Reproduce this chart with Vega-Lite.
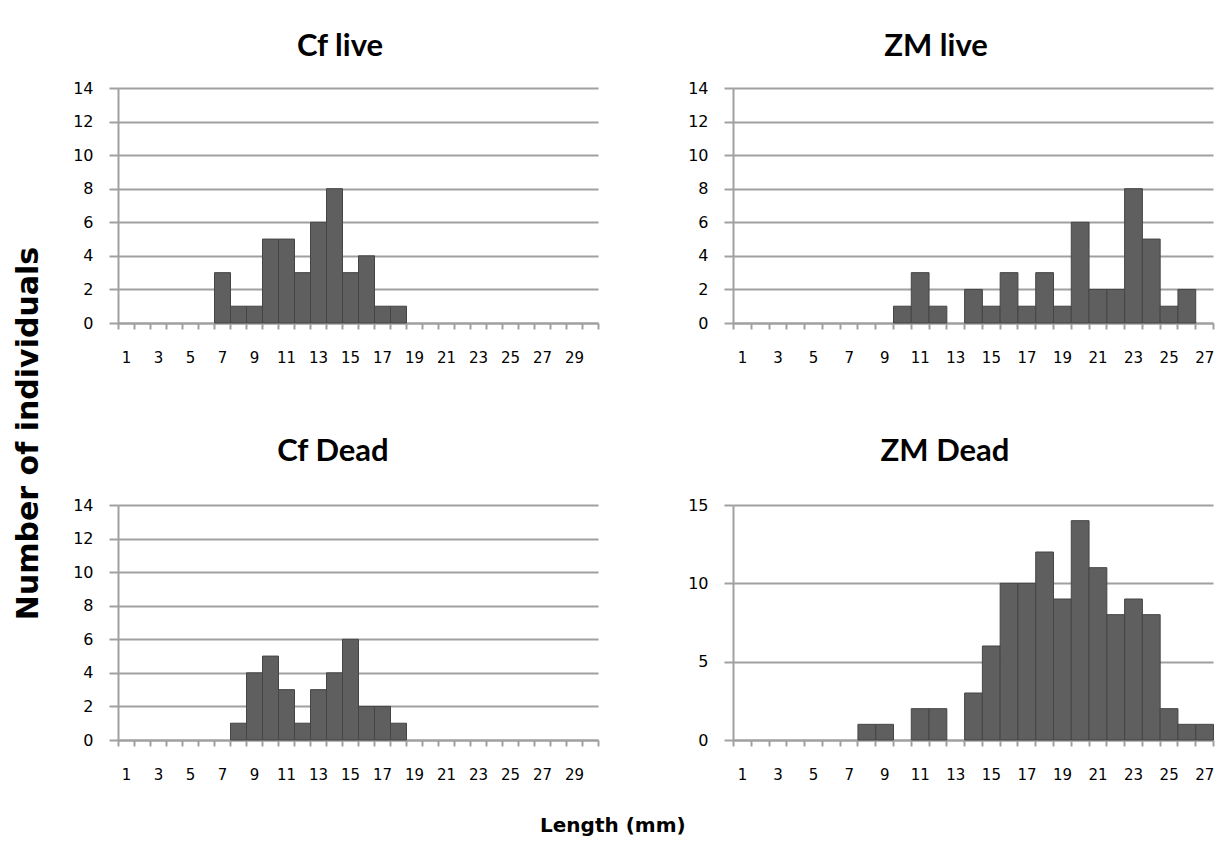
{
  "$schema": "https://vega.github.io/schema/vega-lite/v6.json",
  "background": "white",
  "padding": {"left": 13, "top": 31, "right": 5, "bottom": 5},
  "config": {
    "view": {"stroke": null},
    "font": "DejaVu Sans",
    "axis": {
      "domainColor": "#a0a0a0",
      "domainWidth": 2,
      "tickColor": "#a0a0a0",
      "tickWidth": 2,
      "gridColor": "#a0a0a0",
      "gridWidth": 2,
      "labelColor": "#000000",
      "labelFont": "DejaVu Sans",
      "title": null
    },
    "axisX": {"grid": false, "tickSize": 6, "labelPadding": 21, "labelFontSize": 15, "labelOverlap": false, "labelFlush": false, "labelAngle": 0},
    "axisY": {"grid": true, "tickSize": 9, "labelPadding": 16, "labelFontSize": 16},
    "title": {"font": "Lato", "fontSize": 31, "fontWeight": "bold", "color": "#000000", "offset": 22, "anchor": "middle"}
  },
  "title": {"text": "Length (mm)", "orient": "bottom", "anchor": "middle", "font": "DejaVu Sans", "fontSize": 20, "fontWeight": "bold", "offset": 34, "dx": -5},
  "data": {"values": [
    {"panel": "Cf live", "length": 7, "count": 3},
    {"panel": "Cf live", "length": 8, "count": 1},
    {"panel": "Cf live", "length": 9, "count": 1},
    {"panel": "Cf live", "length": 10, "count": 5},
    {"panel": "Cf live", "length": 11, "count": 5},
    {"panel": "Cf live", "length": 12, "count": 3},
    {"panel": "Cf live", "length": 13, "count": 6},
    {"panel": "Cf live", "length": 14, "count": 8},
    {"panel": "Cf live", "length": 15, "count": 3},
    {"panel": "Cf live", "length": 16, "count": 4},
    {"panel": "Cf live", "length": 17, "count": 1},
    {"panel": "Cf live", "length": 18, "count": 1},
    {"panel": "ZM live", "length": 10, "count": 1},
    {"panel": "ZM live", "length": 11, "count": 3},
    {"panel": "ZM live", "length": 12, "count": 1},
    {"panel": "ZM live", "length": 14, "count": 2},
    {"panel": "ZM live", "length": 15, "count": 1},
    {"panel": "ZM live", "length": 16, "count": 3},
    {"panel": "ZM live", "length": 17, "count": 1},
    {"panel": "ZM live", "length": 18, "count": 3},
    {"panel": "ZM live", "length": 19, "count": 1},
    {"panel": "ZM live", "length": 20, "count": 6},
    {"panel": "ZM live", "length": 21, "count": 2},
    {"panel": "ZM live", "length": 22, "count": 2},
    {"panel": "ZM live", "length": 23, "count": 8},
    {"panel": "ZM live", "length": 24, "count": 5},
    {"panel": "ZM live", "length": 25, "count": 1},
    {"panel": "ZM live", "length": 26, "count": 2},
    {"panel": "Cf Dead", "length": 8, "count": 1},
    {"panel": "Cf Dead", "length": 9, "count": 4},
    {"panel": "Cf Dead", "length": 10, "count": 5},
    {"panel": "Cf Dead", "length": 11, "count": 3},
    {"panel": "Cf Dead", "length": 12, "count": 1},
    {"panel": "Cf Dead", "length": 13, "count": 3},
    {"panel": "Cf Dead", "length": 14, "count": 4},
    {"panel": "Cf Dead", "length": 15, "count": 6},
    {"panel": "Cf Dead", "length": 16, "count": 2},
    {"panel": "Cf Dead", "length": 17, "count": 2},
    {"panel": "Cf Dead", "length": 18, "count": 1},
    {"panel": "ZM Dead", "length": 8, "count": 1},
    {"panel": "ZM Dead", "length": 9, "count": 1},
    {"panel": "ZM Dead", "length": 11, "count": 2},
    {"panel": "ZM Dead", "length": 12, "count": 2},
    {"panel": "ZM Dead", "length": 14, "count": 3},
    {"panel": "ZM Dead", "length": 15, "count": 6},
    {"panel": "ZM Dead", "length": 16, "count": 10},
    {"panel": "ZM Dead", "length": 17, "count": 10},
    {"panel": "ZM Dead", "length": 18, "count": 12},
    {"panel": "ZM Dead", "length": 19, "count": 9},
    {"panel": "ZM Dead", "length": 20, "count": 14},
    {"panel": "ZM Dead", "length": 21, "count": 11},
    {"panel": "ZM Dead", "length": 22, "count": 8},
    {"panel": "ZM Dead", "length": 23, "count": 9},
    {"panel": "ZM Dead", "length": 24, "count": 8},
    {"panel": "ZM Dead", "length": 25, "count": 2},
    {"panel": "ZM Dead", "length": 26, "count": 1},
    {"panel": "ZM Dead", "length": 27, "count": 1}
  ]},
  "vconcat": [
    {
      "title": {"text": "Number of individuals", "orient": "left", "anchor": "middle", "font": "DejaVu Sans", "fontSize": 30, "fontWeight": "bold", "offset": 29, "dx": -27},
      "columns": 2,
      "spacing": {"row": 71, "column": 81},
      "concat": [
        {
          "title": {"text": "Cf live", "dx": -18, "offset": 17},
          "width": 480, "height": 235,
          "transform": [{"filter": "datum.panel == 'Cf live'"}],
          "mark": {"type": "bar", "binSpacing": 0, "color": "#5f5f5f", "stroke": "#454545", "strokeWidth": 1},
          "encoding": {
            "x": {"field": "length", "type": "quantitative", "bin": {"step": 1, "extent": [0.5, 30.5], "nice": false},
                  "scale": {"domain": [0.5, 30.5], "nice": false, "zero": false},
                  "axis": {"values": [0.5,1.5,2.5,3.5,4.5,5.5,6.5,7.5,8.5,9.5,10.5,11.5,12.5,13.5,14.5,15.5,16.5,17.5,18.5,19.5,20.5,21.5,22.5,23.5,24.5,25.5,26.5,27.5,28.5,29.5,30.5],
                           "labelExpr": "datum.value < 30 && (datum.value + 0.5) % 2 == 1 ? format(datum.value + 0.5, 'd') : ''",
                           "labelOffset": 8}},
            "y": {"field": "count", "type": "quantitative", "scale": {"domain": [0, 14], "nice": false},
                  "axis": {"values": [0, 2, 4, 6, 8, 10, 12, 14]}}
          }
        },
        {
          "title": {"text": "ZM live", "dx": -37, "offset": 17},
          "width": 480, "height": 235,
          "transform": [{"filter": "datum.panel == 'ZM live'"}],
          "mark": {"type": "bar", "binSpacing": 0, "color": "#5f5f5f", "stroke": "#454545", "strokeWidth": 1},
          "encoding": {
            "x": {"field": "length", "type": "quantitative", "bin": {"step": 1, "extent": [0.5, 27.5], "nice": false},
                  "scale": {"domain": [0.5, 27.5], "nice": false, "zero": false},
                  "axis": {"values": [0.5,1.5,2.5,3.5,4.5,5.5,6.5,7.5,8.5,9.5,10.5,11.5,12.5,13.5,14.5,15.5,16.5,17.5,18.5,19.5,20.5,21.5,22.5,23.5,24.5,25.5,26.5,27.5],
                           "labelExpr": "datum.value < 27 && (datum.value + 0.5) % 2 == 1 ? format(datum.value + 0.5, 'd') : ''",
                           "labelOffset": 9}},
            "y": {"field": "count", "type": "quantitative", "scale": {"domain": [0, 14], "nice": false},
                  "axis": {"values": [0, 2, 4, 6, 8, 10, 12, 14]}}
          }
        },
        {
          "title": {"text": "Cf Dead", "dx": -25, "offset": 29},
          "width": 480, "height": 235,
          "transform": [{"filter": "datum.panel == 'Cf Dead'"}],
          "mark": {"type": "bar", "binSpacing": 0, "color": "#5f5f5f", "stroke": "#454545", "strokeWidth": 1},
          "encoding": {
            "x": {"field": "length", "type": "quantitative", "bin": {"step": 1, "extent": [0.5, 30.5], "nice": false},
                  "scale": {"domain": [0.5, 30.5], "nice": false, "zero": false},
                  "axis": {"values": [0.5,1.5,2.5,3.5,4.5,5.5,6.5,7.5,8.5,9.5,10.5,11.5,12.5,13.5,14.5,15.5,16.5,17.5,18.5,19.5,20.5,21.5,22.5,23.5,24.5,25.5,26.5,27.5,28.5,29.5,30.5],
                           "labelExpr": "datum.value < 30 && (datum.value + 0.5) % 2 == 1 ? format(datum.value + 0.5, 'd') : ''",
                           "labelOffset": 8}},
            "y": {"field": "count", "type": "quantitative", "scale": {"domain": [0, 14], "nice": false},
                  "axis": {"values": [0, 2, 4, 6, 8, 10, 12, 14]}}
          }
        },
        {
          "title": {"text": "ZM Dead", "dx": -28, "offset": 29},
          "width": 480, "height": 235,
          "transform": [{"filter": "datum.panel == 'ZM Dead'"}],
          "mark": {"type": "bar", "binSpacing": 0, "color": "#5f5f5f", "stroke": "#454545", "strokeWidth": 1},
          "encoding": {
            "x": {"field": "length", "type": "quantitative", "bin": {"step": 1, "extent": [0.5, 27.5], "nice": false},
                  "scale": {"domain": [0.5, 27.5], "nice": false, "zero": false},
                  "axis": {"values": [0.5,1.5,2.5,3.5,4.5,5.5,6.5,7.5,8.5,9.5,10.5,11.5,12.5,13.5,14.5,15.5,16.5,17.5,18.5,19.5,20.5,21.5,22.5,23.5,24.5,25.5,26.5,27.5],
                           "labelExpr": "datum.value < 27 && (datum.value + 0.5) % 2 == 1 ? format(datum.value + 0.5, 'd') : ''",
                           "labelOffset": 9}},
            "y": {"field": "count", "type": "quantitative", "scale": {"domain": [0, 15], "nice": false},
                  "axis": {"values": [0, 5, 10, 15]}}
          }
        }
      ]
    }
  ]
}
